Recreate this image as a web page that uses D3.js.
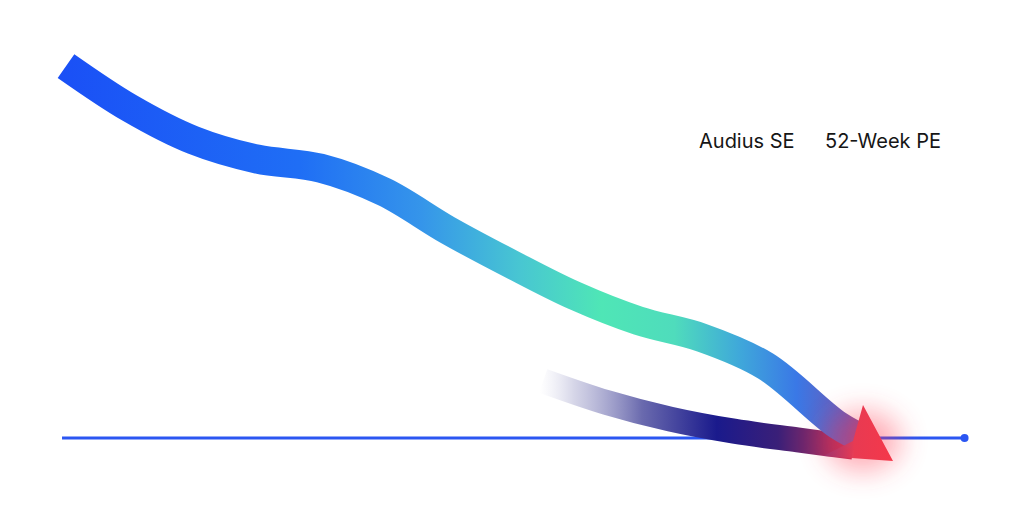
<!DOCTYPE html>
<html>
<head>
<meta charset="utf-8">
<script src="https://cdn.jsdelivr.net/npm/d3@7"></script>
<style>
html,body{margin:0;padding:0;background:#fff;}
svg{display:block;}
</style>
</head>
<body>
<svg id="chart" width="1024" height="512"></svg>
<script>
// ---- data ----
const seriesNames = ["Audius SE", "52-Week PE"];
const seWeeks  = [0, 4, 8, 12, 16, 20, 24, 28, 32, 36, 40, 44, 48.5, 50.5];
const seValues = [98.4, 87.3, 78.8, 73.8, 71.4, 65.1, 55.0, 46.0, 37.6, 31.0, 26.5, 19.0, 3.5, -1.0];
const peWeeks  = [30, 34, 38, 42, 46, 49.5];
const peValues = [15.1, 9.4, 5.0, 1.8, -0.5, -2.4];
const peTip    = {week: 52, value: -6.1};
const baseWeeks = [-0.25, 56.5];

// ---- scales ----
const svg = d3.select("#chart");
const x = d3.scaleLinear().domain([0, 52]).range([66, 893]);
const y = d3.scaleLinear().domain([0, 100]).range([438, 60]);

const defs = svg.append("defs");

// gradient for main band
const g1 = defs.append("linearGradient").attr("id","gSE")
  .attr("gradientUnits","userSpaceOnUse").attr("x1",55).attr("x2",870).attr("y1",0).attr("y2",0);
[[0,"#1a4ff6"],[0.3,"#1f6ef5"],[0.45,"#3595ea"],[0.57,"#48c6d2"],[0.67,"#4fe6b6"],[0.76,"#4fdcbc"],[0.84,"#3fa8da"],[0.91,"#3a78e6"],[0.97,"#6a5cb8"],[1,"#a04a88"]]
  .forEach(([o,c]) => g1.append("stop").attr("offset",o).attr("stop-color",c));

// gradient for second band
const g2 = defs.append("linearGradient").attr("id","gPE")
  .attr("gradientUnits","userSpaceOnUse").attr("x1",540).attr("x2",880).attr("y1",0).attr("y2",0);
[[0,"#d8d8ea",0],[0.1,"#c4c4de",0.7],[0.3,"#6a6aae",1],[0.52,"#1a1a8c",1],[0.7,"#3a1f78",1],[0.85,"#a02e62",1],[1,"#f23a4c",1]]
  .forEach(([o,c,a]) => g2.append("stop").attr("offset",o).attr("stop-color",c).attr("stop-opacity",a));

const blur = defs.append("filter").attr("id","glow").attr("x","-100%").attr("y","-100%").attr("width","300%").attr("height","300%");
blur.append("feGaussianBlur").attr("stdDeviation",14);

// ---- baseline ----
svg.append("line")
  .attr("x1", x(baseWeeks[0])).attr("x2", x(baseWeeks[1]))
  .attr("y1", y(0)).attr("y2", y(0))
  .attr("stroke","#2b56f2").attr("stroke-width",3);
svg.append("circle").attr("cx", x(baseWeeks[1])).attr("cy", y(0)).attr("r",4).attr("fill","#2b56f2");

const line = d3.line().x(d => x(d[0])).y(d => y(d[1])).curve(d3.curveCatmullRom.alpha(0.5));

// ---- second band ----
const peData = peWeeks.map((w,i) => [w, peValues[i]]);
svg.append("path").attr("d", line(peData))
  .attr("fill","none").attr("stroke","url(#gPE)").attr("stroke-width",25).attr("stroke-linecap","butt");

// ---- main band ----
const seData = seWeeks.map((w,i) => [w, seValues[i]]);
svg.append("path").attr("d", line(seData))
  .attr("fill","none").attr("stroke","url(#gSE)").attr("stroke-width",29).attr("stroke-linecap","butt");

// ---- glow + arrowhead ----
const tx = x(peTip.week), ty = y(peTip.value);
svg.append("ellipse").attr("cx", tx-30).attr("cy", ty-20).attr("rx",38).attr("ry",30)
  .attr("fill","#ff3048").attr("opacity",0.4).attr("filter","url(#glow)");
const gh = defs.append("linearGradient").attr("id","gHead")
  .attr("gradientUnits","userSpaceOnUse").attr("x1",tx-70).attr("x2",tx).attr("y1",0).attr("y2",0);
[[0,"#9a3a7a",0.5],[0.45,"#e83a52",1],[1,"#f5384a",1]]
  .forEach(([o,c,a]) => gh.append("stop").attr("offset",o).attr("stop-color",c).attr("stop-opacity",a));
svg.append("path")
  .attr("d", `M${tx-30},${ty-56} L${tx},${ty} L${tx-70},${ty-5} L${tx-40},${ty-20} Z`)
  .attr("fill","url(#gHead)");

// ---- legend ----
const legendX = [699, 825];
svg.selectAll("text.leg").data(seriesNames).join("text")
  .attr("class","leg")
  .attr("x",(d,i) => legendX[i]).attr("y",148)
  .attr("font-family","Inter, 'Liberation Sans', sans-serif")
  .attr("font-size",20).attr("fill","#161616")
  .text(d => d);
</script>
</body>
</html>
